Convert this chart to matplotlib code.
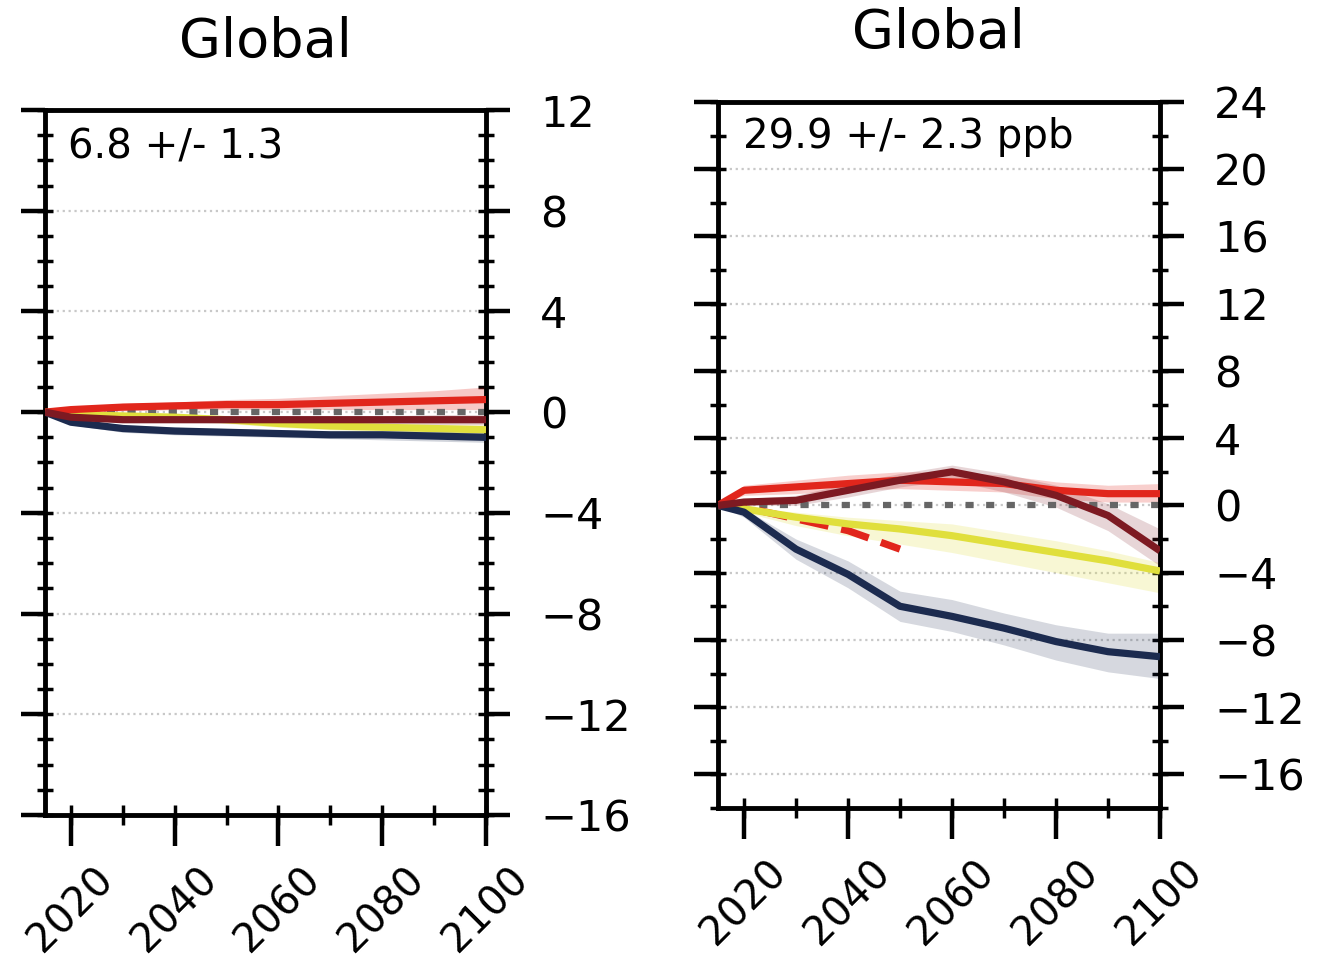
import matplotlib
matplotlib.use("Agg")
import matplotlib.pyplot as plt
from matplotlib.ticker import MultipleLocator, FixedLocator

# ---------------- data ----------------
years = [2015, 2020, 2030, 2040, 2050, 2060, 2070, 2080, 2090, 2100]
dash_years = [2015, 2020, 2030, 2040, 2050]
xtick_years = [2020, 2040, 2060, 2080, 2100]

titles = ["Global", "Global"]
annotations = ["6.8 +/- 1.3", "29.9 +/- 2.3 ppb"]

# left panel
L_navy = [0, -0.4, -0.65, -0.75, -0.8, -0.85, -0.9, -0.9, -0.95, -1.0]
L_navy_lo = [0, -0.5, -0.8, -0.9, -0.95, -1.0, -1.05, -1.1, -1.15, -1.2]
L_navy_hi = [0, -0.3, -0.5, -0.6, -0.65, -0.7, -0.75, -0.75, -0.75, -0.8]
L_yellow = [0, -0.1, -0.15, -0.2, -0.3, -0.45, -0.55, -0.6, -0.65, -0.7]
L_yellow_lo = [0, -0.2, -0.3, -0.35, -0.45, -0.6, -0.7, -0.75, -0.85, -0.9]
L_yellow_hi = [0, 0.0, -0.05, -0.1, -0.15, -0.3, -0.4, -0.45, -0.5, -0.5]
L_red = [0, 0.1, 0.2, 0.25, 0.3, 0.3, 0.35, 0.4, 0.45, 0.5]
L_red_lo = [0, 0.0, 0.05, 0.1, 0.1, 0.1, 0.1, 0.1, 0.1, 0.1]
L_red_hi = [0, 0.2, 0.35, 0.4, 0.5, 0.55, 0.65, 0.75, 0.85, 1.0]
L_maroon = [0, -0.2, -0.3, -0.3, -0.3, -0.3, -0.3, -0.3, -0.3, -0.3]
L_maroon_lo = [0, -0.3, -0.4, -0.4, -0.4, -0.45, -0.45, -0.45, -0.5, -0.5]
L_maroon_hi = [0, -0.1, -0.2, -0.2, -0.2, -0.15, -0.15, -0.15, -0.1, -0.1]

# right panel
R_navy = [0, -0.4, -2.6, -4.1, -6.0, -6.6, -7.3, -8.1, -8.7, -9.0]
R_navy_lo = [0, -0.7, -3.2, -4.9, -6.9, -7.5, -8.3, -9.2, -9.9, -10.3]
R_navy_hi = [0, -0.2, -2.0, -3.3, -5.1, -5.6, -6.4, -7.1, -7.6, -7.6]
R_yellow = [0, -0.2, -0.7, -1.1, -1.4, -1.8, -2.3, -2.8, -3.3, -3.9]
R_yellow_lo = [0, -0.4, -1.2, -1.8, -2.3, -2.8, -3.4, -4.0, -4.6, -5.2]
R_yellow_hi = [0, -0.1, -0.4, -0.7, -0.9, -1.1, -1.6, -2.1, -2.7, -3.4]
R_red = [0, 0.9, 1.1, 1.3, 1.5, 1.4, 1.3, 0.9, 0.7, 0.7]
R_red_lo = [0, 0.6, 0.7, 0.9, 1.0, 0.9, 0.8, 0.4, 0.2, 0.2]
R_red_hi = [0, 1.2, 1.5, 1.8, 2.0, 2.0, 1.8, 1.4, 1.2, 1.3]
R_maroon = [0, 0.2, 0.3, 0.9, 1.5, 2.0, 1.4, 0.6, -0.6, -2.7]
R_maroon_lo = [0, 0.0, 0.0, 0.5, 1.1, 1.5, 0.8, -0.1, -1.5, -3.6]
R_maroon_hi = [0, 0.4, 0.6, 1.3, 1.9, 2.4, 1.9, 1.2, 0.1, -1.4]
R_reddash = [0, -0.1, -0.8, -1.5, -2.6]

# ---------------- style ----------------
C_NAVY = "#1c2b4f"
C_YELLOW = "#e0df3c"
C_RED = "#e1261c"
C_MAROON = "#7d1a22"

plt.rcParams["font.family"] = ["DejaVu Sans"]

fig = plt.figure(figsize=(13.24, 9.63), dpi=100)
W, H = 1324, 963

def make_axes(px_left, px_right, px_top, px_bottom):
    return fig.add_axes([px_left / W, 1 - px_bottom / H,
                         (px_right - px_left) / W, (px_bottom - px_top) / H])

axL = make_axes(45, 486, 110, 815)
axR = make_axes(718, 1160, 102, 808)

def style_axes(ax, ylim, ymajor, yminor):
    ax.set_xlim(2015, 2100)
    ax.set_ylim(*ylim)
    ax.xaxis.set_major_locator(FixedLocator(xtick_years))
    ax.xaxis.set_minor_locator(MultipleLocator(10))
    ax.yaxis.set_major_locator(MultipleLocator(ymajor))
    ax.yaxis.set_minor_locator(MultipleLocator(yminor))
    ax.xaxis.remove_overlapping_locs = False
    ax.yaxis.remove_overlapping_locs = False
    for s in ax.spines.values():
        s.set_linewidth(3.5)
    ax.tick_params(axis="y", which="major", direction="out", length=17,
                   width=3.2, left=True, right=True, labelleft=False,
                   labelright=True, labelsize=31, pad=22)
    ax.tick_params(axis="y", which="minor", direction="inout", length=11,
                   width=2.5, left=True, right=True)
    ax.tick_params(axis="x", which="major", direction="out", length=22,
                   width=3.2, labelsize=29, pad=10, labelrotation=45)
    ax.tick_params(axis="x", which="minor", direction="inout", length=15,
                   width=2.5)
    ax.yaxis.grid(True, which="major", ls=":", color="#c8c8c8", lw=1.6)
    ax.set_axisbelow(True)

style_axes(axL, (-16, 12), 4, 1)
style_axes(axR, (-18, 24), 4, 2)

def draw(ax, series, dashed=None):
    ax.axhline(0, color="#666666", lw=4.5, dashes=(1.3, 2.0), zorder=2)
    for y, lo, hi, c, a in series:
        ax.fill_between(years, lo, hi, color=c, alpha=a, lw=0, zorder=1)
    for y, lo, hi, c, a in series:
        if c == C_MAROON and dashed is not None:
            ax.plot(dash_years, dashed, color=C_RED, lw=5.2,
                    dashes=(4.0, 1.8), zorder=3)
        ax.plot(years, y, color=c, lw=5.2, zorder=4, solid_capstyle="butt")

draw(axL, [
    (L_yellow, L_yellow_lo, L_yellow_hi, C_YELLOW, 0.25),
    (L_navy, L_navy_lo, L_navy_hi, C_NAVY, 0.2),
    (L_red, L_red_lo, L_red_hi, C_RED, 0.25),
    (L_maroon, L_maroon_lo, L_maroon_hi, C_MAROON, 0.2),
])
draw(axR, [
    (R_yellow, R_yellow_lo, R_yellow_hi, C_YELLOW, 0.22),
    (R_navy, R_navy_lo, R_navy_hi, C_NAVY, 0.18),
    (R_red, R_red_lo, R_red_hi, C_RED, 0.22),
    (R_maroon, R_maroon_lo, R_maroon_hi, C_MAROON, 0.18),
], dashed=R_reddash)

axL.text(0.052, 0.947, annotations[0], transform=axL.transAxes,
         fontsize=29, va="center", ha="left")
axR.text(0.057, 0.950, annotations[1], transform=axR.transAxes,
         fontsize=29, va="center", ha="left")

fig.text(265 / W, 1 - 42 / H, titles[0], fontsize=39, ha="center", va="center")
fig.text(938 / W, 1 - 33 / H, titles[1], fontsize=39, ha="center", va="center")

fig.savefig("out.png", dpi=100)
